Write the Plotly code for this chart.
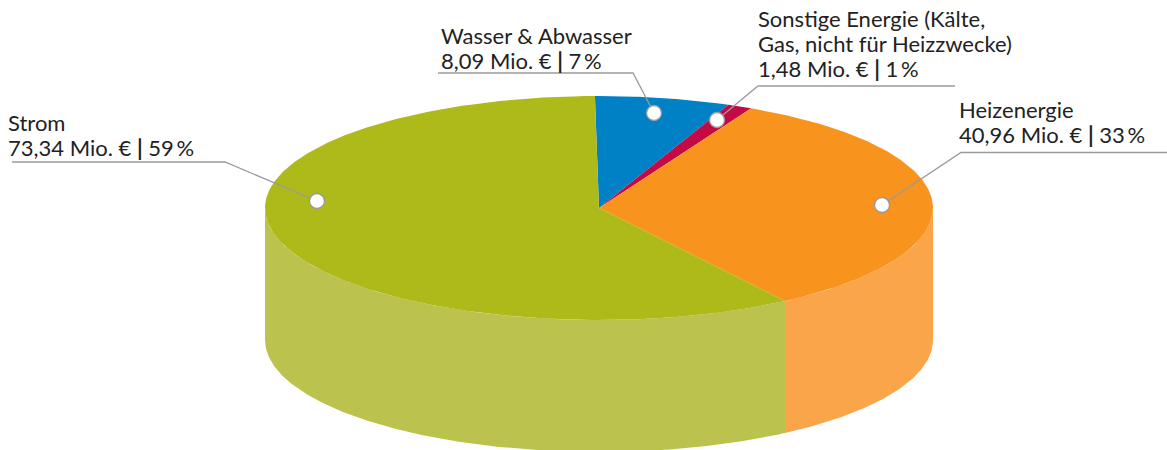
import math
import plotly.graph_objects as go

# Data
categories = ["Wasser & Abwasser", "Sonstige Energie (Kälte,<br>Gas, nicht für Heizzwecke)", "Heizenergie", "Strom"]
values_mio = [8.09, 1.48, 40.96, 73.34]
value_labels = ["8,09", "1,48", "40,96", "73,34"]
percent_labels = ["7", "1", "33", "59"]

# Styles / geometry
top_colors = ["#0080C5", "#C30A45", "#F8931E", "#AEB91A"]
side_colors = ["#5AA9D8", "#D65C80", "#FBA54A", "#BBC34E"]
W, H = 1167, 450
CX, CY, RX, RY, DEPTH = 599, 208, 334, 112, 132
START_DEG = -0.7
FONT = "Lato"
FONT_SIZE = 22
LINE_STEP = 25
label_xy = [(441, 35.5), (758, 18.5), (959, 109.5), (8, 122.5)]
leaders = [
    [(438, 73), (633, 73), (654, 113)],
    [(955, 86), (758, 86), (717, 120)],
    [(1167, 152.5), (961, 152.5), (882, 205)],
    [(12, 162), (225, 162), (317, 201)],
]


def arc(a0, a1, dy=0.0):
    n = max(2, int(abs(a1 - a0) * 2))
    xs, ys = [], []
    for i in range(n + 1):
        t = math.radians(a0 + (a1 - a0) * i / n)
        xs.append(CX + RX * math.sin(t))
        ys.append(CY + dy - RY * math.cos(t))
    return xs, ys


total = sum(values_mio)
bounds = [START_DEG]
for v in values_mio:
    bounds.append(bounds[-1] + v / total * 360)

fig = go.Figure()

# Side walls (only the front half of the cylinder is visible)
for i in range(len(values_mio)):
    a0, a1 = max(bounds[i], 90), min(bounds[i + 1], 270)
    if a1 <= a0:
        continue
    xt, yt = arc(a0, a1)
    xb, yb = arc(a1, a0, DEPTH)
    fig.add_trace(go.Scatter(
        x=xt + xb + xt[:1], y=yt + yb + yt[:1], mode="lines", fill="toself",
        fillcolor=side_colors[i], line=dict(width=0), hoverinfo="skip", showlegend=False,
    ))

# Top face
for i, name in enumerate(categories):
    xa, ya = arc(bounds[i], bounds[i + 1])
    fig.add_trace(go.Scatter(
        x=[CX] + xa + [CX], y=[CY] + ya + [CY], mode="lines", fill="toself",
        fillcolor=top_colors[i], line=dict(width=0), hoverinfo="skip", showlegend=False,
    ))

# Leader lines and dots
for pts in leaders:
    fig.add_trace(go.Scatter(
        x=[p[0] for p in pts], y=[p[1] for p in pts], mode="lines",
        line=dict(color="#9A9A9A", width=1.3), hoverinfo="skip", showlegend=False,
    ))
fig.add_trace(go.Scatter(
    x=[p[-1][0] for p in leaders], y=[p[-1][1] for p in leaders], mode="markers",
    marker=dict(size=15, color="white", line=dict(color="#9A9A9A", width=1.3)),
    hoverinfo="skip", showlegend=False,
))

# Labels, one annotation per line so the line pitch matches
for i, name in enumerate(categories):
    lines = name.split("<br>") + [f"{value_labels[i]} Mio. € <b>|</b> {percent_labels[i]}\u2009%"]
    for j, line in enumerate(lines):
        fig.add_annotation(
            x=label_xy[i][0], y=label_xy[i][1] + j * LINE_STEP, text=line, showarrow=False,
            align="left", xanchor="left", yanchor="middle", borderpad=0, borderwidth=0,
            font=dict(family=FONT, size=FONT_SIZE, color="#222222"),
        )

fig.update_xaxes(range=[0, W], visible=False, fixedrange=True)
fig.update_yaxes(range=[H, 0], visible=False, fixedrange=True)
fig.update_layout(
    width=W, height=H, margin=dict(l=0, r=0, t=0, b=0),
    paper_bgcolor="white", plot_bgcolor="white", showlegend=False,
)
fig.write_html(
    "out.html",
    config={"displayModeBar": False},
    post_script="document.body.style.margin='0';document.body.style.overflow='hidden';",
)
